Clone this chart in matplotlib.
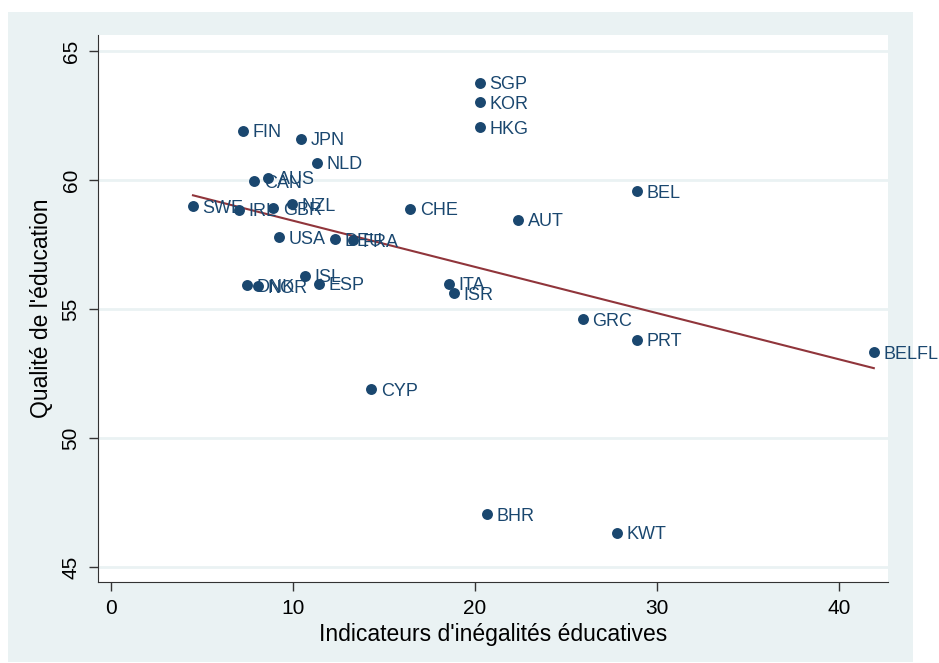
import numpy as np
import matplotlib.pyplot as plt
from matplotlib.patches import Rectangle

plt.rcParams['font.family'] = ['Liberation Sans', 'DejaVu Sans']

countries = ['SGP', 'KOR', 'HKG', 'FIN', 'JPN', 'NLD', 'AUS', 'CAN', 'BEL', 'SWE',
             'NZL', 'GBR', 'IRL', 'CHE', 'AUT', 'USA', 'DEU', 'FRA', 'ISL', 'DNK',
             'NOR', 'ESP', 'ITA', 'ISR', 'GRC', 'PRT', 'BELFL', 'CYP', 'BHR', 'KWT']
inegalite = [20.27, 20.27, 20.27, 7.25, 10.44, 11.32, 8.63, 7.86, 28.9, 4.5,
             9.95, 8.9, 7.03, 16.43, 22.36, 9.23, 12.31, 13.3, 10.66, 7.47,
             8.08, 11.43, 18.57, 18.85, 25.93, 28.9, 41.92, 14.29, 20.66, 27.8]
qualite = [63.76, 63.02, 62.05, 61.9, 61.59, 60.66, 60.08, 59.96, 59.57, 58.99,
           59.07, 58.91, 58.84, 58.88, 58.45, 57.79, 57.71, 57.67, 56.28, 55.93,
           55.89, 55.97, 55.97, 55.62, 54.61, 53.8, 53.33, 51.9, 47.05, 46.32]

x = np.array(inegalite)
y = np.array(qualite)

navy = '#1a476f'
bg = '#eaf2f3'

fig = plt.figure(figsize=(9.39, 6.63), dpi=100)
fig.patches.append(Rectangle((8 / 939, 1 / 663), 905 / 939, 650 / 663,
                             transform=fig.transFigure, facecolor=bg,
                             edgecolor='none', zorder=-10))
ax = fig.add_axes([98 / 939, 81 / 663, 790 / 939, 547 / 663])
ax.set_facecolor('white')

# droite de regression
coef = np.polyfit(x, y, 1)
xs = np.array([x.min(), x.max()])
ax.plot(xs, np.polyval(coef, xs), color='#90353b', lw=1.5, zorder=2)

ax.scatter(x, y, s=62, color=navy, zorder=3, linewidths=0)
for c, xi, yi in zip(countries, x, y):
    ax.annotate(c, (xi, yi), xytext=(7, 0), textcoords='offset points',
                va='center_baseline', ha='left', fontsize=13, color=navy,
                annotation_clip=False, zorder=4)

ax.set_xlim(-0.72, 42.7)
ax.set_ylim(44.42, 65.62)
ax.set_xticks([0, 10, 20, 30, 40])
ax.set_yticks([45, 50, 55, 60, 65])
ax.set_yticklabels(['45', '50', '55', '60', '65'], rotation=90, va='center')
ax.grid(axis='y', color=bg, lw=2)
ax.set_axisbelow(True)
for s in ['top', 'right']:
    ax.spines[s].set_visible(False)
for s in ['left', 'bottom']:
    ax.spines[s].set_color('#333333')
ax.tick_params(length=6.5, width=1, labelsize=15, color='#333333', pad=6)
ax.set_xlabel("Indicateurs d'inégalités éducatives", fontsize=16.5, labelpad=3)
ax.set_ylabel("Qualité de l'éducation", fontsize=16.5, labelpad=6)

fig.savefig('out.png', dpi=100)
